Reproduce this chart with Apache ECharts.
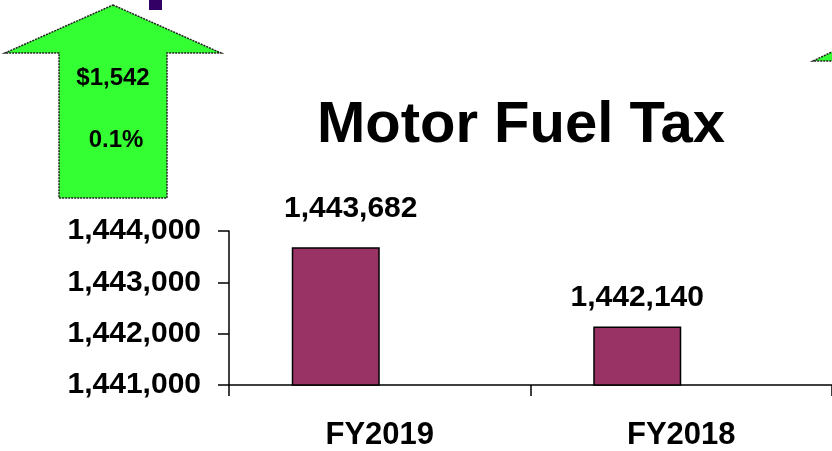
<!DOCTYPE html>
<html>
<head>
<meta charset="utf-8">
<script src="https://cdn.jsdelivr.net/npm/echarts@6/dist/echarts.min.js"></script>
<style>html,body{margin:0;padding:0;background:#fff}#c{width:832px;height:451px}</style>
</head>
<body>
<div id="c"></div>
<script>
var categories = ['FY2019', 'FY2018'];
var values = [1443682, 1442140];
var yTicks = [1441000, 1442000, 1443000, 1444000];
var arrowAmount = '$1,542';
var arrowPct = '0.1%';
var titleText = 'Motor Fuel Tax';

var FONT = 'Arial, "Liberation Sans", sans-serif';
function fmt(v){ return v.toLocaleString('en-US'); }

var labelStyles = [
  {distance: 24, offset: [15, 0]},
  {distance: 14, offset: [0, 0]}
];

var chart = echarts.init(document.getElementById('c'), null, {renderer: 'canvas'});
chart.setOption({
  animation: false,
  backgroundColor: '#fff',
  title: {
    text: titleText,
    left: 516, top: 92, textAlign: 'center',
    textStyle: {fontFamily: FONT, fontWeight: 'bold', fontSize: 58, color: '#000'}
  },
  grid: {left: 229, right: 0, top: 231, bottom: 65},
  xAxis: {
    type: 'category', data: categories,
    axisLine: {lineStyle: {color: '#000', width: 1.5}},
    axisTick: {show: true, length: 11, lineStyle: {color: '#000', width: 1.5}},
    axisLabel: {fontFamily: FONT, fontWeight: 'bold', fontSize: 31, color: '#000', margin: 35}
  },
  yAxis: {
    type: 'value', min: yTicks[0], max: yTicks[yTicks.length - 1], interval: 1000,
    splitLine: {show: false},
    axisLine: {show: true, lineStyle: {color: '#000', width: 1.5}},
    axisTick: {show: true, length: 11, lineStyle: {color: '#000', width: 1.5}},
    axisLabel: {fontFamily: FONT, fontWeight: 'bold', fontSize: 30, color: '#000', margin: 28,
      formatter: function(v){ return fmt(v); }}
  },
  series: [
    {
      type: 'bar', barWidth: 88, barGap: '0%',
      itemStyle: {color: '#993366', borderColor: '#000', borderWidth: 1.5},
      data: values.map(function(v, i){
        return {value: v, label: {show: true, position: 'top', distance: labelStyles[i].distance, offset: labelStyles[i].offset,
          fontFamily: FONT, fontWeight: 'bold', fontSize: 30, color: '#000', formatter: function(p){ return fmt(p.value); }}};
      })
    },
    {
      type: 'bar', barWidth: 88, data: categories.map(function(){ return null; })
    }
  ],
  graphic: [
    {type: 'polygon', shape: {points: [[113,5],[221,53],[167,53],[167,198],[59,198],[59,53],[5,53]]},
      style: {fill: '#33ff33', stroke: '#222', lineWidth: 1.5, lineDash: [2,1]}},
    {type: 'rect', shape: {x: 149, y: 0, width: 13, height: 10}, style: {fill: '#330066'}},
    {type: 'polygon', shape: {points: [[813,61],[834,51],[834,61]]},
      style: {fill: '#33ff33', stroke: '#222', lineWidth: 1.5, lineDash: [2,1]}},
    {type: 'text', x: 113, y: 78, style: {text: arrowAmount, fontFamily: FONT, fontWeight: 'bold', fontSize: 24, fill: '#000', textAlign: 'center', textVerticalAlign: 'middle'}},
    {type: 'text', x: 116, y: 140, style: {text: arrowPct, fontFamily: FONT, fontWeight: 'bold', fontSize: 24, fill: '#000', textAlign: 'center', textVerticalAlign: 'middle'}}
  ]
});
</script>
</body>
</html>
